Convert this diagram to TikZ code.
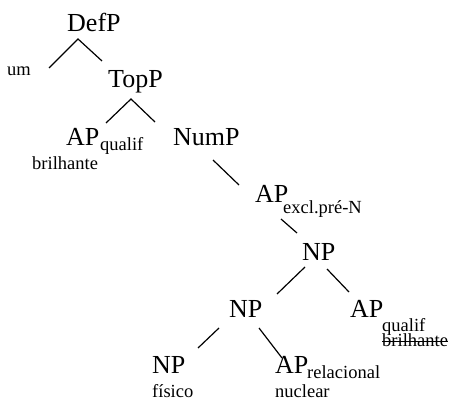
\documentclass[tikz,border=0pt]{standalone}
\usepackage{fontspec}
\setmainfont{Liberation Serif}
\begin{document}
\begin{tikzpicture}[x=1pt,y=-1pt,
  lbl/.style={anchor=base west,inner sep=0pt,font=\fontsize{26}{28}\selectfont},
  sub/.style={anchor=base west,inner sep=0pt,font=\fontsize{18.5}{20}\selectfont},
  branch/.style={line width=1.2pt},
  strike/.style={line width=0.9pt}]
\useasboundingbox (0,0) rectangle (450,401);

% category labels
\node[lbl] (defp) at (67,32) {DefP};
\node[lbl] (topp) at (108,88) {TopP};
\node[lbl] (apq) at (66,146) {AP};
\node[lbl] (nump) at (173,146) {NumP};
\node[lbl] (apx) at (255,203) {AP};
\node[lbl] (npa) at (302,260) {NP};
\node[lbl] (npb) at (229,317) {NP};
\node[lbl] (apr) at (350,317) {AP};
\node[lbl] (npc) at (152,373) {NP};
\node[lbl] (aprel) at (275,373) {AP};

% subscripts and lexical items
\node[sub] (um) at (7,76) {um};
\node[sub] (apqs) at (100,151) {qualif};
\node[sub] (brl) at (32,170) {brilhante};
\node[sub] (apxs) at (283,213) {excl.pré-N};
\node[sub] (aprq) at (382,331) {qualif};
\node[sub] (aprb) at (382,346) {brilhante};
\node[sub] (aprels) at (307,378) {relacional};
\node[sub] (fis) at (152,397) {físico};
\node[sub] (nuc) at (275,397) {nuclear};

% struck-through adjective
\draw[strike] ([yshift=5pt]aprb.base west) -- ([yshift=5pt]aprb.base east);

% branch end points
\coordinate (d0) at (78,39);  \coordinate (d1) at (49,68);  \coordinate (d2) at (102,61);
\coordinate (t0) at (131,99); \coordinate (t1) at (106,123); \coordinate (t2) at (155,122);
\coordinate (n0) at (213,160); \coordinate (n1) at (239,185);
\coordinate (x0) at (281,219); \coordinate (x1) at (297,233);
\coordinate (a1) at (305,267); \coordinate (a2) at (277,294);
\coordinate (a3) at (327,269); \coordinate (a4) at (349,292);
\coordinate (b1) at (219,328); \coordinate (b2) at (198,348);
\coordinate (b3) at (259,328); \coordinate (b4) at (282,358);

% branches
\draw[branch] (d1) -- (d0) -- (d2);
\draw[branch] (t1) -- (t0) -- (t2);
\draw[branch] (n0) -- (n1);
\draw[branch] (x0) -- (x1);
\draw[branch] (a1) -- (a2);
\draw[branch] (a3) -- (a4);
\draw[branch] (b1) -- (b2);
\draw[branch] (b3) -- (b4);
\end{tikzpicture}
\end{document}
